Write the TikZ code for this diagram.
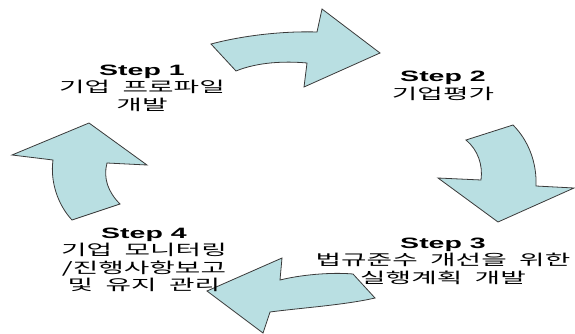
\documentclass[tikz,border=0pt]{standalone}
\usepackage{fontspec}
\newfontfamily\stepfont{Liberation Sans}[FakeStretch=1.9]
\newfontfamily\krfont{Noto Sans CJK KR}[FakeStretch=1.85,WordSpace=2.0]
\definecolor{arrowfill}{HTML}{B9DFE2}
\definecolor{arrowline}{HTML}{3A3A3A}
\tikzset{
  cyclearrow/.style={fill=arrowfill, draw=arrowline, line width=0.8pt, line join=miter},
  steplabel/.style={align=center, inner sep=0pt, text=black,
    font=\fontsize{15}{17.5}\selectfont},
}
\newcommand{\stephead}[1]{{\stepfont\bfseries #1}}
\begin{document}
\begin{tikzpicture}[x=1pt, y=-1pt]
\useasboundingbox (0,0) rectangle (575,334);

% arrow from step 1 to step 2 (top)
\draw[cyclearrow] (211,44) .. controls (245,35) and (285,31) .. (317,32)
  -- (322,9) -- (380,53) -- (304,87) -- (307,63)
  .. controls (285,61) and (258,62) .. (236,71) -- cycle;

% arrow from step 2 to step 3 (right)
\draw[cyclearrow] (466,140) -- (513,125)
  .. controls (528,140) and (537,162) .. (536,186)
  -- (574,188) -- (498,222) -- (438,178) -- (481,180)
  .. controls (483,165) and (478,150) .. (466,140) -- cycle;

% arrow from step 3 to step 4 (bottom)
\draw[cyclearrow] (353,274) -- (375,298)
  .. controls (345,305) and (300,308) .. (270,312)
  -- (263,333) -- (207,291) -- (282,258) -- (280,280)
  .. controls (300,275) and (330,272) .. (353,274) -- cycle;

% arrow from step 4 to step 1 (left)
\draw[cyclearrow] (120,204) -- (72,220)
  .. controls (58,205) and (50,182) .. (53,160)
  -- (12,155) -- (89,123) -- (147,165) -- (107,163)
  .. controls (103,178) and (108,192) .. (120,204) -- cycle;

% step labels
\node[steplabel] (s1) at (142,88) {\stephead{Step 1}\\ \krfont 기업 프로파일\\ \krfont 개발};
\node[steplabel] (s2) at (443,86) {\stephead{Step 2}\\ \krfont 기업평가};
\node[steplabel] (s3) at (443,261) {\stephead{Step 3}\\ \krfont 법규준수 개선을 위한\\ \krfont 실행계획 개발};
\node[steplabel] (s4) at (144,260) {\stephead{Step 4}\\ \krfont 기업 모니터링\\ \krfont /진행사항보고\\ \krfont 및 유지 관리};
\end{tikzpicture}
\end{document}
